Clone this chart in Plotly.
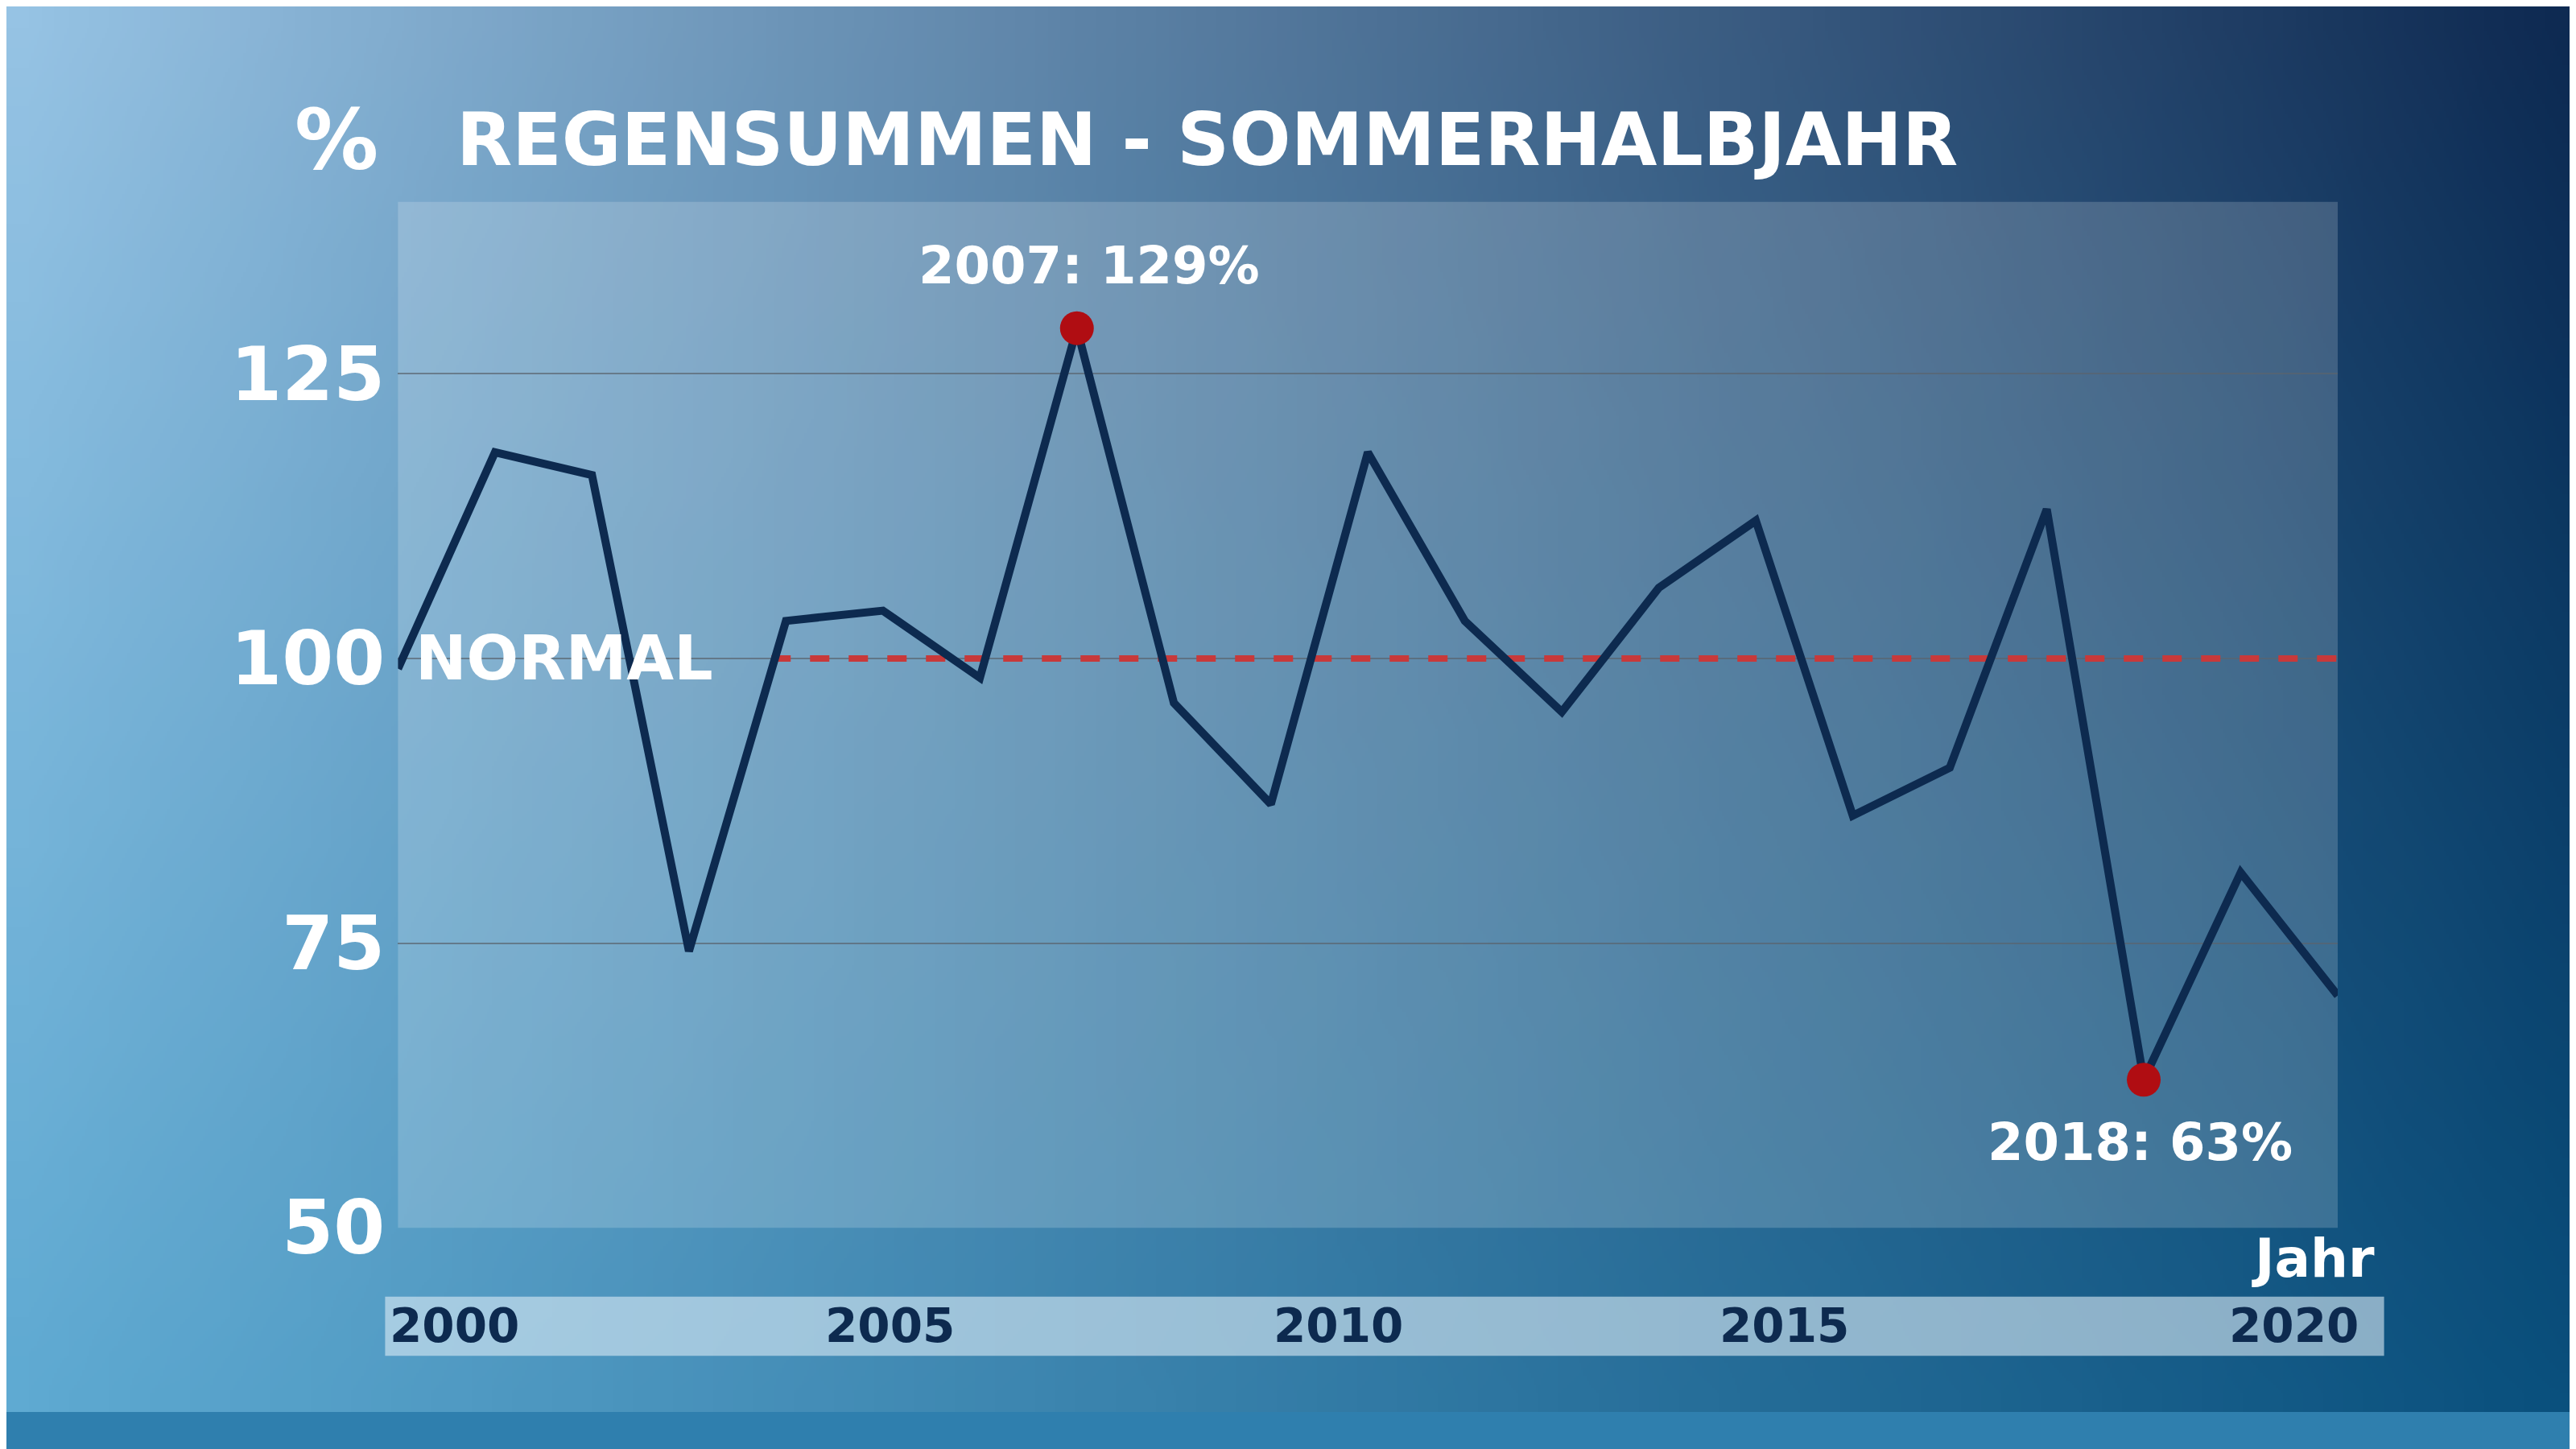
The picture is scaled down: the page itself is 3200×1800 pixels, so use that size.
import base64
import struct
import zlib

import plotly.graph_objects as go

# data
years = list(range(2000, 2021))
rain_pct = [99.1, 118.1, 116.1, 74.3, 103.3, 104.2, 98.3, 129, 96.1, 87.2, 118.1,
            103.3, 95.3, 106.2, 112.1, 86.2, 90.4, 113.1, 63, 81.2, 70.4]
highlight_years = [2007, 2018]
highlight_labels = ["2007: 129%", "2018: 63%"]
normal_value = 100
normal_start = 2003.85
y_ticks = [50, 75, 100, 125]
band_labels = ["2000", "2005", "2010", "2015", "2020"]
band_label_pos = [0.174, 0.343, 0.517, 0.690, 0.888]  # paper x of the band labels


def gradient_png(w=64, h=36):
    # diagonal blue gradient: light top-left, navy right
    rows = b""
    for j in range(h):
        row = b"\x00"
        v = j / (h - 1)
        for i in range(w):
            u = i / (w - 1)
            tl, tr = (150, 195, 228), (14, 42, 82)
            bl, br = (95, 170, 210), (10, 80, 125)
            c = [int((1 - v) * ((1 - u) * a + u * b) + v * ((1 - u) * c_ + u * d))
                 for a, b, c_, d in zip(tl, tr, bl, br)]
            row += bytes(c)
        rows += row

    def chunk(tag, data):
        return struct.pack(">I", len(data)) + tag + data + struct.pack(">I", zlib.crc32(tag + data) & 0xffffffff)

    png = b"\x89PNG\r\n\x1a\n" + chunk(b"IHDR", struct.pack(">IIBBBBB", w, h, 8, 2, 0, 0, 0))
    png += chunk(b"IDAT", zlib.compress(rows)) + chunk(b"IEND", b"")
    return "data:image/png;base64," + base64.b64encode(png).decode()


font = "Verdana, DejaVu Sans"
navy = "#0d2a4f"

fig = go.Figure()

# dashed normal line
fig.add_trace(go.Scatter(x=[normal_start, years[-1]], y=[normal_value, normal_value], mode="lines",
                         line=dict(color="#c8393a", width=8, dash="dash"), hoverinfo="skip"))

fig.add_trace(go.Scatter(x=years, y=rain_pct, mode="lines",
                         line=dict(color=navy, width=10), hoverinfo="skip"))

hl_vals = [rain_pct[years.index(y)] for y in highlight_years]
fig.add_trace(go.Scatter(x=highlight_years, y=hl_vals, mode="markers",
                         marker=dict(color="#b00d12", size=42), hoverinfo="skip"))

for yr, val, txt, pos in zip(highlight_years, hl_vals, highlight_labels, [1, -1]):
    fig.add_annotation(x=yr, y=val, text=txt, showarrow=False, yshift=pos * 78, xshift=pos * 10 + 5,
                       font=dict(family=font, size=64, color="white", weight="bold"))

fig.add_annotation(x=2000, y=normal_value, text="NORMAL", showarrow=False, xanchor="left", xshift=20,
                   font=dict(family=font, size=76, color="white", weight="bold"))

fig.add_annotation(xref="paper", yref="paper", x=0.145, y=0.905, text="%", showarrow=False,
                   xanchor="right", yanchor="middle",
                   font=dict(family=font, size=104, color="white", weight="bold"))
fig.add_annotation(xref="paper", yref="paper", x=0.174, y=0.905, text="REGENSUMMEN - SOMMERHALBJAHR",
                   showarrow=False, xanchor="left", yanchor="middle",
                   font=dict(family=font, size=90, color="white", weight="bold"))
fig.add_annotation(xref="paper", yref="paper", x=0.92, y=0.109, text="Jahr", showarrow=False,
                   xanchor="right", yanchor="middle",
                   font=dict(family=font, size=66, color="white", weight="bold"))

# tick band
fig.add_shape(type="rect", xref="paper", yref="paper", x0=0.147, x1=0.923, y0=0.040, y1=0.082,
              fillcolor="rgba(220,235,245,0.6)", line_width=0, layer="below")
for lab, px in zip(band_labels, band_label_pos):
    fig.add_annotation(xref="paper", yref="paper", x=px, y=0.061, text=lab, showarrow=False,
                       xanchor="center", yanchor="middle",
                       font=dict(family=font, size=58, color=navy, weight="bold"))

# panel
fig.add_shape(type="rect", xref="paper", yref="paper", x0=0.152, x1=0.905, y0=0.131, y1=0.861,
              fillcolor="rgba(255,255,255,0.18)", line_width=0, layer="below")

fig.add_layout_image(source=gradient_png(), xref="paper", yref="paper", x=0, y=1, sizex=1, sizey=1,
                     sizing="stretch", layer="below", xanchor="left", yanchor="top")

fig.update_layout(
    margin=dict(l=0, r=0, t=0, b=0), autosize=True,
    paper_bgcolor="#2f7fae", plot_bgcolor="rgba(0,0,0,0)", showlegend=False,
    xaxis=dict(domain=[0.152, 0.905], range=[2000, 2020], showgrid=False, zeroline=False,
               showticklabels=False),
    yaxis=dict(domain=[0.131, 0.861], range=[50, 140.1], tickvals=y_ticks, showgrid=True,
               gridcolor="rgba(90,100,110,0.7)", gridwidth=2, zeroline=False, ticks="",
               ticklabelstandoff=15,
               tickfont=dict(family=font, size=92, color="white", weight="bold")),
)

fig.write_html("out.html", default_width="100vw", default_height="100vh",
               config={"responsive": True})
